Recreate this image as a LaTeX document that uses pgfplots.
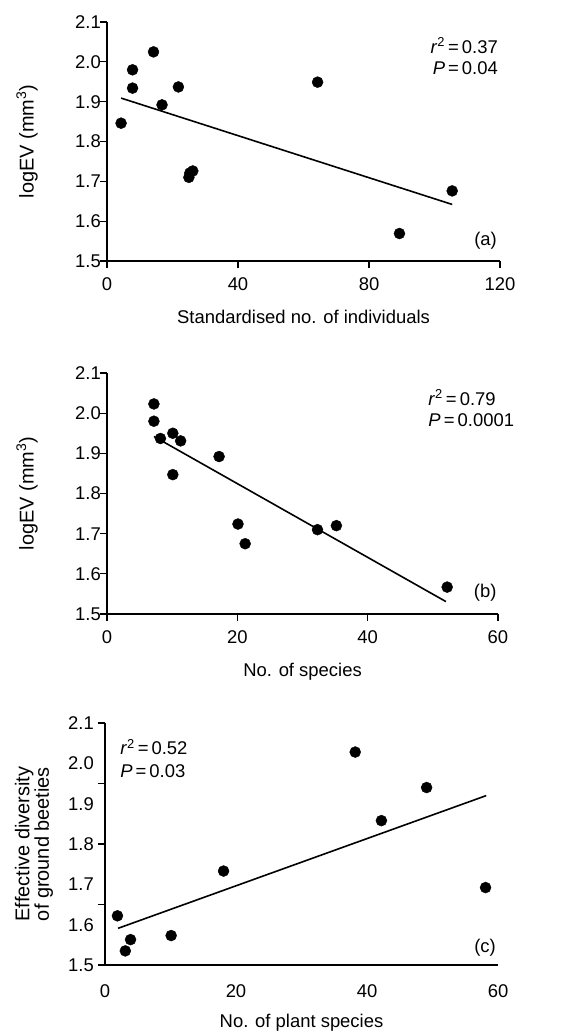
\documentclass[border=0pt]{standalone}
\usepackage{fontspec}
\setmainfont{Liberation Sans}
\usepackage{pgfplots}
\pgfplotsset{compat=1.18}
\newcommand{\fs}{\fontsize{18.5}{22}\selectfont}
\newcommand{\fl}{\fontsize{20}{17}\selectfont}
\pgfplotsset{
  panel/.style={
    scale only axis,
    axis lines=left,
    axis line style={-, line width=1.3bp, black},
    every tick/.style={line width=1.3bp, black},
    tick align=outside,
    major tick length=7bp,
    clip=false,
    ymin=1.5, ymax=2.1,
    ytick={1.5,1.6,1.7,1.8,1.9,2.0,2.1},
    /pgf/number format/assume math mode=true,
    yticklabel style={font=\fs, inner sep=0pt,
      /pgf/number format/fixed, /pgf/number format/fixed zerofill, /pgf/number format/precision=1},
    xticklabel style={font=\fs, inner sep=0pt},
  },
  pts/.style={only marks, mark=*, mark size=5.5bp, black},
  fit/.style={black, line width=1.6bp},
}
\begin{document}
\begin{tikzpicture}
\path[use as bounding box] (0bp,0bp) rectangle (573bp,-1036bp);

% ---------- (a)
\begin{axis}[panel,
  at={(107bp,-261bp)}, anchor=south west,
  width=393bp, height=239bp,
  xmin=0, xmax=120, xtick={0,40,80,120},
  yticklabel style={xshift=1bp},
  xticklabel style={yshift=-9bp},
  xlabel={Standardised no. of individuals},
  ylabel={logEV (mm\textsuperscript{3})},
  every axis x label/.style={at={(axis description cs:0.5,-0.234)}, anchor=center, font=\fs},
  every axis y label/.style={at={(axis description cs:-0.2036,0.5)}, rotate=90, anchor=center, font=\fl},
]
\addplot[pts] coordinates {
  (4.3,1.846) (7.8,1.980) (7.8,1.934) (14.2,2.025) (16.8,1.892) (21.8,1.937)
  (25.0,1.710) (25.3,1.721) (26.2,1.726) (64.3,1.949) (89.3,1.569) (105.4,1.676)
};
\addplot[fit] coordinates {(4.3,1.909) (105.4,1.642)};
\node[anchor=base east, font=\fs, inner sep=0pt] at (axis cs:119.4,2.022) {\textit{r}\textsuperscript{2}\,=\,0.37};
\node[anchor=base east, font=\fs, inner sep=0pt] at (axis cs:119.4,1.967) {\textit{P}\,=\,0.04};
\node[anchor=base east, font=\fs, inner sep=0pt] at (axis cs:119.1,1.540) {(a)};
\end{axis}

% ---------- (b)
\begin{axis}[panel,
  at={(107bp,-614bp)}, anchor=south west,
  width=391bp, height=241bp,
  xmin=0, xmax=60, xtick={0,20,40,60},
  yticklabel style={xshift=1bp},
  xticklabel style={yshift=-9bp},
  xlabel={No. of species},
  ylabel={logEV (mm\textsuperscript{3})},
  every axis x label/.style={at={(axis description cs:0.5,-0.241)}, anchor=center, font=\fs},
  every axis y label/.style={at={(axis description cs:-0.2046,0.5)}, rotate=90, anchor=center, font=\fl},
]
\addplot[pts] coordinates {
  (7.2,2.023) (7.2,1.980) (8.2,1.937) (10.1,1.950) (11.3,1.931) (10.1,1.847)
  (17.2,1.892) (20.1,1.724) (21.2,1.675) (32.3,1.710) (35.2,1.720) (52.2,1.567)
};
\addplot[fit] coordinates {(7.2,1.942) (52.0,1.531)};
\node[anchor=base west, font=\fs, inner sep=0pt] at (axis cs:49.3,2.020) {\textit{r}\textsuperscript{2}\,=\,0.79};
\node[anchor=base west, font=\fs, inner sep=0pt] at (axis cs:49.3,1.966) {\textit{P}\,=\,0.0001};
\node[anchor=base east, font=\fs, inner sep=0pt] at (axis cs:59.8,1.542) {(b)};
\end{axis}

% ---------- (c)
\begin{axis}[panel,
  at={(105bp,-965bp)}, anchor=south west,
  width=393bp, height=242bp,
  xmin=0, xmax=60, xtick={0,20,40,60},
  major tick length=0bp,
  yticklabel style={xshift=-11bp},
  xticklabel style={yshift=-19bp},
  extra y ticks={1.5,1.65,1.8,1.95,2.1},
  extra y tick style={major tick length=7bp, yticklabel={}},
  xlabel={No. of plant species},
  ylabel={Effective diversity\\of ground beeties},
  every axis x label/.style={at={(axis description cs:0.5,-0.240)}, anchor=center, font=\fs},
  every axis y label/.style={at={(axis description cs:-0.1807,0.5)}, rotate=90, anchor=center, align=center, font=\fl},
]
\addplot[pts] coordinates {
  (1.9,1.622) (3.1,1.535) (3.9,1.563) (10.1,1.573) (18.1,1.733)
  (38.2,2.028) (42.2,1.858) (49.1,1.940) (58.1,1.692)
};
\addplot[fit] coordinates {(2.0,1.591) (58.2,1.920)};
\node[anchor=base west, font=\fs, inner sep=0pt] at (axis cs:2.3,2.021) {\textit{r}\textsuperscript{2}\,=\,0.52};
\node[anchor=base west, font=\fs, inner sep=0pt] at (axis cs:2.3,1.964) {\textit{P}\,=\,0.03};
\node[anchor=base east, font=\fs, inner sep=0pt] at (axis cs:59.7,1.532) {(c)};
\end{axis}
\end{tikzpicture}
\end{document}
